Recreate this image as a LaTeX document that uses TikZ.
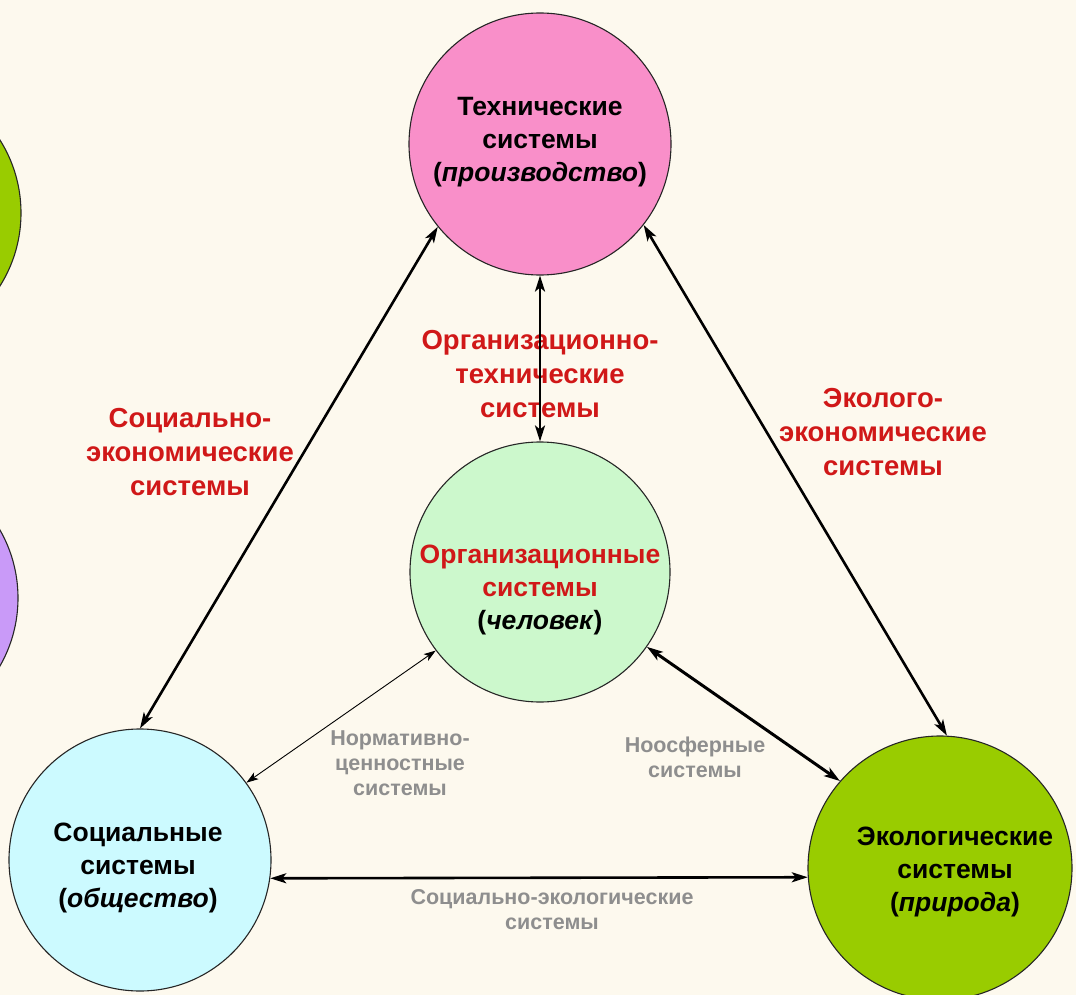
\documentclass[tikz,border=0pt]{standalone}
\usepackage{fontspec}
\setmainfont{Liberation Sans}
\usetikzlibrary{arrows.meta}

\definecolor{paper}{HTML}{FDF9EE}
\definecolor{techpink}{HTML}{F98FC9}
\definecolor{orggreen}{HTML}{CCF8CC}
\definecolor{soccyan}{HTML}{CCFAFF}
\definecolor{ecogreen}{HTML}{99CC00}
\definecolor{sidepurple}{HTML}{C99AF8}
\definecolor{labelred}{HTML}{D01818}
\definecolor{labelgray}{HTML}{8E8E8E}

\tikzset{
  sphere/.style={circle, draw=black!85, line width=1.1pt, minimum size=262pt, inner sep=0pt},
  ctext/.style={align=center, font=\fontsize{26.5}{33}\selectfont\bfseries, text=black},
  redlabel/.style={align=center, font=\fontsize{27.5}{34}\selectfont\bfseries, text=labelred},
  graylabel/.style={align=center, font=\fontsize{21.5}{25}\selectfont\bfseries, text=labelgray},
  link/.style={{Stealth[length=16pt,width=10pt,inset=4pt]}-{Stealth[length=16pt,width=10pt,inset=4pt]}, line width=2.6pt},
  thinlink/.style={{Stealth[length=12pt,width=8pt,inset=3pt]}-{Stealth[length=12pt,width=8pt,inset=3pt]}, line width=0.9pt},
  heavylink/.style={{Stealth[length=16pt,width=10pt,inset=4pt]}-{Stealth[length=16pt,width=10pt,inset=4pt]}, line width=3pt},
}

\begin{document}
\begin{tikzpicture}[x=1pt,y=-1pt]
  % page
  \fill[paper] (0,0) rectangle (1076,995);
  \useasboundingbox (0,0) rectangle (1076,995);

  % partly visible spheres at the left edge
  \node[sphere, fill=ecogreen, minimum size=274pt] (leftgreen) at (-116,213) {};
  \node[sphere, fill=sidepurple, minimum size=274pt] (leftpurple) at (-119,598) {};

  % the four systems
  \node[sphere, fill=techpink] (tech) at (540,144) {};
  \node[sphere, fill=orggreen, minimum size=260pt] (org) at (540,572) {};
  \node[sphere, fill=soccyan] (soc) at (140,860) {};
  \node[sphere, fill=ecogreen, minimum size=264pt] (eco) at (940,868) {};

  \node[ctext] (techtext) at (540,142) {Технические\\системы\\(\textit{производство})};
  \node[ctext] (orgtext) at (540,590) {\textcolor{labelred}{Организационные}\\\textcolor{labelred}{системы}\\(\textit{человек})};
  \node[ctext] (soctext) at (138,868) {Социальные\\системы\\(\textit{общество})};
  \node[ctext] (ecotext) at (955,872) {Экологические\\системы\\(\textit{природа})};

  % names of the combined systems
  \node[redlabel] (orgtech) at (540,374) {Организационно-\\технические\\системы};
  \node[redlabel] (soceco) at (190,452) {Социально-\\экономические\\системы};
  \node[redlabel] (ecoeco) at (883,432) {Эколого-\\экономические\\системы};
  \node[graylabel] (norm) at (400,763) {Нормативно-\\ценностные\\системы};
  \node[graylabel] (noo) at (695,757) {Ноосферные\\системы};
  \node[graylabel] (socecol) at (552,910) {Социально-экологические\\системы};

  % relations
  \draw[link] (tech.270) -- (org.90);
  \draw[link] (tech.219) -- (soc.90);
  \draw[link] (tech.322) -- (eco.87);
  \draw[thinlink] (org.217) -- (soc.36);
  \draw[heavylink] (org.325) -- (eco.139);
  \draw[link] (soc.352) -- (eco.184);
\end{tikzpicture}
\end{document}
